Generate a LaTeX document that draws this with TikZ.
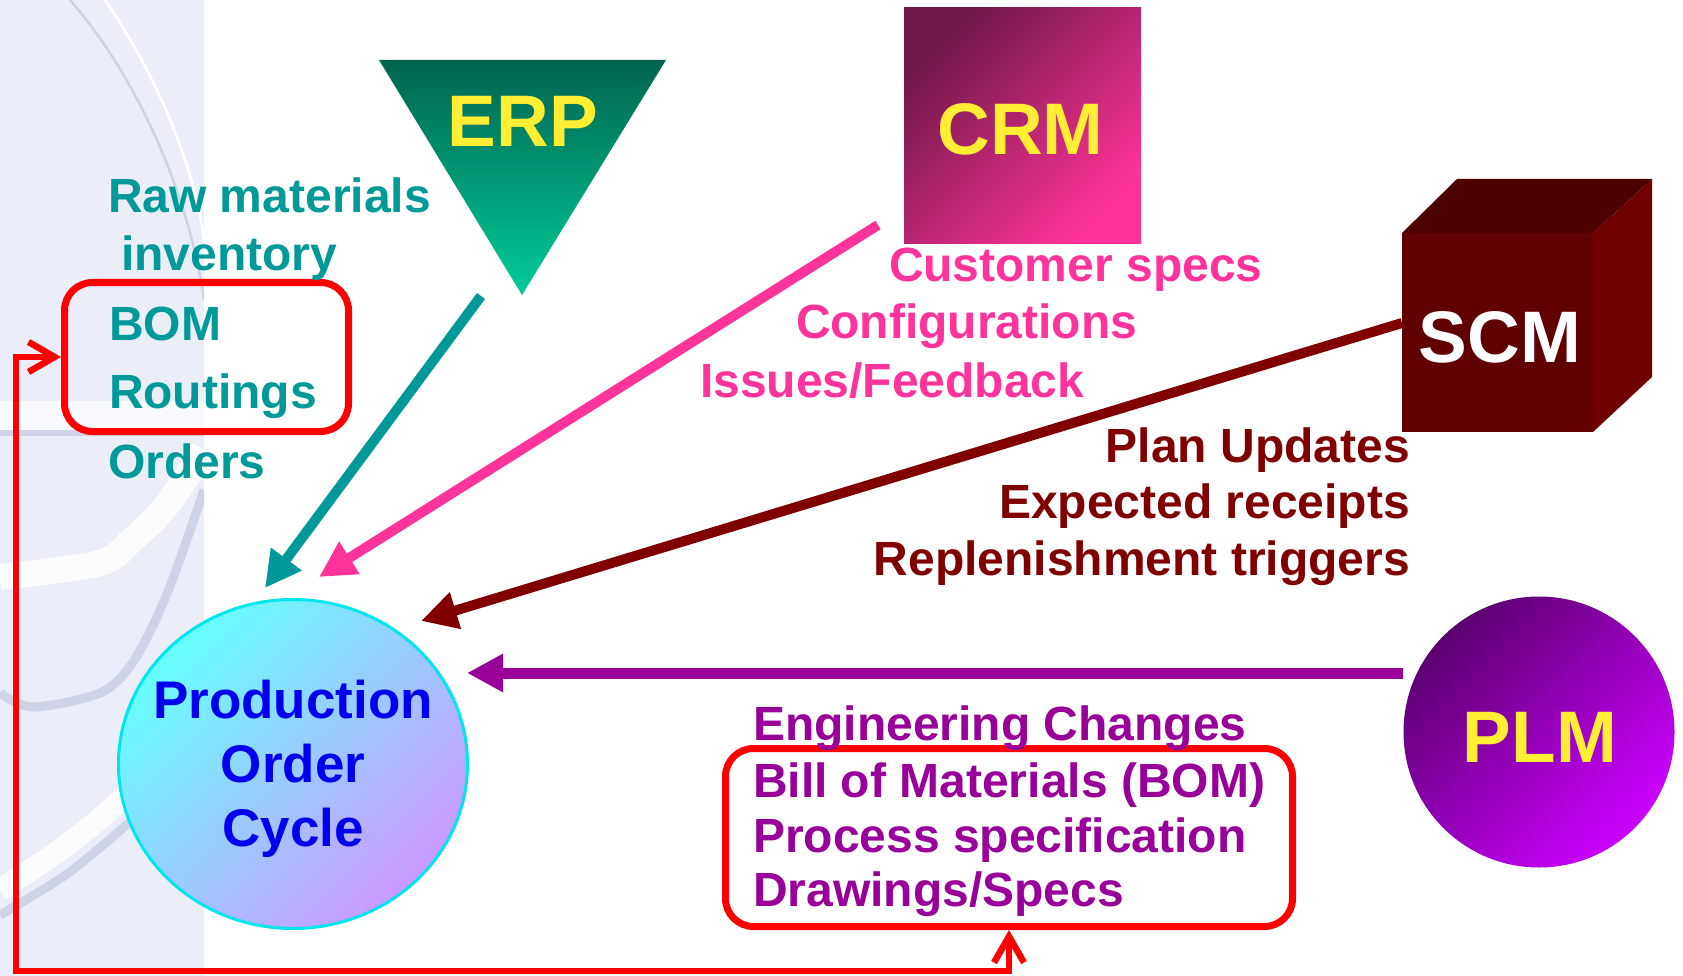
\documentclass[tikz,border=0pt]{standalone}
\usepackage{fontspec}
\setmainfont{Liberation Sans}
\usetikzlibrary{shapes.geometric,arrows.meta}

\definecolor{panel}{RGB}{235,238,248}
\definecolor{orn}{RGB}{206,212,230}
\definecolor{erptop}{RGB}{0,100,78}
\definecolor{erpbot}{RGB}{0,204,153}
\definecolor{yel}{RGB}{255,238,51}
\definecolor{crmA}{RGB}{112,24,72}
\definecolor{crmB}{RGB}{255,51,153}
\definecolor{scmF}{RGB}{96,0,0}
\definecolor{scmT}{RGB}{77,0,0}
\definecolor{scmR}{RGB}{112,0,0}
\definecolor{plmA}{RGB}{92,0,112}
\definecolor{plmB}{RGB}{204,0,255}
\definecolor{prodA}{RGB}{102,255,255}
\definecolor{prodB}{RGB}{204,153,255}
\definecolor{prodLine}{RGB}{0,229,238}
\definecolor{cTeal}{RGB}{0,153,153}
\definecolor{cPink}{RGB}{255,51,153}
\definecolor{cMaroon}{RGB}{128,0,0}
\definecolor{cPurp}{RGB}{153,0,153}
\definecolor{cBlue}{RGB}{0,0,238}
\definecolor{cRed}{RGB}{255,0,0}

\tikzset{
  flow/.style={line width=10pt, -{Triangle[length=36pt,width=36pt]}},
  lbl/.style={font=\fontsize{48}{56}\selectfont\bfseries, inner sep=0pt, outer sep=0pt},
  big/.style={font=\fontsize{73}{80}\selectfont\bfseries, inner sep=0pt, outer sep=0pt, anchor=base},
  fb/.style={draw=cRed, line width=6.5pt, line cap=round, line join=miter,
    {Straight Barb[length=26pt,width=30pt]}-{Straight Barb[length=26pt,width=30pt]}},
  redbox/.style={draw=cRed, line width=7pt, rounded corners=28pt, inner sep=0pt, rectangle},
}

\begin{document}
\begin{tikzpicture}[x=1pt,y=-1pt]
\useasboundingbox (0,0) rectangle (1683,976);
\fill[white] (0,0) rectangle (1683,976);

% left decorative panel
\fill[panel] (0,0) rectangle (204,976);
\begin{scope}
  \clip (0,0) rectangle (204,976);
  \fill[white!70!panel] (0,401) rectangle (204,430);
  \fill[orn] (0,430) rectangle (204,436);
  \draw[orn, line width=2.5pt] (70,0) .. controls (140,80) and (190,200) .. (204,300);
  \draw[white, line width=2.5pt] (105,0) .. controls (160,80) and (195,170) .. (204,240);
  \draw[white, line width=26pt, opacity=.85] plot[smooth] coordinates {(0,577) (100,563) (133,539) (167,505) (204,450)};
  \draw[orn, line width=9pt] plot[smooth] coordinates {(0,693) (33,707) (100,693) (133,662) (167,594) (204,490)};
  \draw[white, line width=22pt, opacity=.85] plot[smooth] coordinates {(0,890) (67,845) (133,790) (204,725)};
  \draw[orn, line width=9pt] plot[smooth] coordinates {(0,915) (67,874) (133,819) (204,752)};
\end{scope}

% ERP
\shade[top color=erptop, bottom color=erpbot] (379,60) -- (666,60) -- (522,295) -- cycle;
\node[big, text=yel] (erp) at (523,147) {ERP};

% CRM
\node[rectangle, minimum width=237pt, minimum height=236pt, inner sep=0pt,
      top color=crmA, bottom color=crmB, shading angle=45] (crm) at (1022.5,126) {};
\node[big, text=yel] (crmt) at (1020.5,155) {CRM};

% SCM cube
\fill[scmT] (1402,233) -- (1457,179) -- (1652,179) -- (1593,233) -- cycle;
\fill[scmR] (1593,233) -- (1652,179) -- (1652,377) -- (1593,432) -- cycle;
\node[rectangle, fill=scmF, minimum width=191pt, minimum height=199pt, inner sep=0pt] (scm) at (1497.5,332.5) {};
\node[big, text=white] (scmt) at (1500,362) {SCM};

% PLM
\node[circle, minimum size=271pt, inner sep=0pt, top color=plmA, bottom color=plmB, shading angle=45] (plm) at (1539,732) {};
\node[big, text=yel] (plmt) at (1540,762) {PLM};

% Production order cycle
\node[ellipse, minimum width=349pt, minimum height=329pt, inner sep=0pt, draw=prodLine, line width=3pt,
      top color=prodA, bottom color=prodB, shading angle=45] (prod) at (293,764) {};
\node[font=\fontsize{53}{64}\selectfont\bfseries, text=cBlue, align=center, inner sep=0pt] (prodt) at (293,769)
  {Production\\Order\\Cycle};

% red boxes
\node[redbox, minimum width=284pt, minimum height=149pt] (box1) at (206.5,357) {};
\node[redbox, minimum width=567pt, minimum height=178pt] (box2) at (1009,837.5) {};

% teal labels
\node[lbl, text=cTeal, anchor=base west] (r1) at (108,213) {Raw materials};
\node[lbl, text=cTeal, anchor=base west] (r2) at (121,270) {inventory};
\node[lbl, text=cTeal, anchor=base west] (r3) at (109,340) {BOM};
\node[lbl, text=cTeal, anchor=base west] (r4) at (109,408) {Routings};
\node[lbl, text=cTeal, anchor=base west] (r5) at (108,478) {Orders};

% pink labels
\node[lbl, text=cPink, anchor=base west] (c1) at (889,281) {Customer specs};
\node[lbl, text=cPink, anchor=base west] (c2) at (796,338) {Configurations};
\node[lbl, text=cPink, anchor=base west] (c3) at (700,397) {Issues/Feedback};

% maroon labels
\node[lbl, text=cMaroon, anchor=base east] (s1) at (1410,462) {Plan Updates};
\node[lbl, text=cMaroon, anchor=base east] (s2) at (1410,518) {Expected receipts};
\node[lbl, text=cMaroon, anchor=base east] (s3) at (1410,575) {Replenishment triggers};

% purple labels
\node[lbl, text=cPurp, anchor=base west] (p1) at (753,740) {Engineering Changes};
\node[lbl, text=cPurp, anchor=base west] (p2) at (753,797) {Bill of Materials (BOM)};
\node[lbl, text=cPurp, anchor=base west] (p3) at (753,852) {Process specification};
\node[lbl, text=cPurp, anchor=base west] (p4) at (753,906) {Drawings/Specs};

% connector end points
\coordinate (erpOut) at (481,296);
\coordinate (tealIn) at (265,588);
\coordinate (crmOut) at (878,225);
\coordinate (pinkIn) at (319,577);
\coordinate (scmOut) at (1402,323);
\coordinate (maroonIn) at (421,621);
\coordinate (plmOut) at (1403,673);
\coordinate (purpIn) at (467,673);
\coordinate (fbc) at (16,971);

\draw[flow, color=cTeal] (erpOut) -- (tealIn);
\draw[flow, color=cPink] (crmOut) -- (pinkIn);
\draw[flow, color=cMaroon] (scmOut) -- (maroonIn);
\draw[flow, color=cPurp, line width=11pt] (plmOut) -- (purpIn);

% feedback loop
\draw[fb] (box1.west) -| (fbc) -| (box2.south);
\end{tikzpicture}
\end{document}
